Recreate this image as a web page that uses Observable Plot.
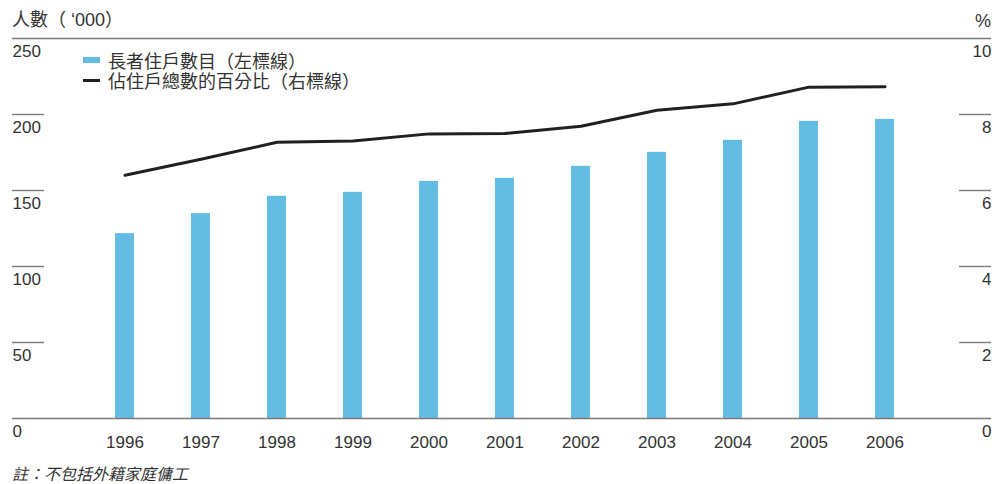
<!DOCTYPE html>
<html>
<head>
<meta charset="utf-8">
<script src="https://cdn.jsdelivr.net/npm/d3@7"></script>
<script src="https://cdn.jsdelivr.net/npm/@observablehq/plot@0.6"></script>
<style>
  html, body { margin: 0; padding: 0; background: #fff; }
  #wrap { position: relative; width: 995px; height: 484px; overflow: hidden;
          font-family: "Liberation Sans", "Noto Sans CJK TC", sans-serif; color: #333; }
  .abs { position: absolute; white-space: nowrap; }
  #title { left: 12px; top: 11px; font-size: 18px; line-height: 18px; height: 18px; }
  #pct { right: 4px; top: 12px; font-size: 18px; line-height: 18px; height: 18px; }
  .leg { left: 83px; font-size: 18px; line-height: 17px; height: 17px; font-family: "Noto Sans CJK TC", sans-serif;
         display: flex; align-items: center; }
  .sw { display: block; width: 17px; margin-right: 8px; flex: none; }
  #note { left: 12px; top: 465px; font-size: 16px; line-height: 16px; height: 16px; font-style: italic;
          font-family: "Noto Sans CJK TC", sans-serif; }
</style>
</head>
<body>
<div id="wrap">
  <div id="chart"></div>
  <div class="abs" id="title">人數（ ‘000）</div>
  <div class="abs" id="pct">%</div>
  <div class="abs leg" style="top:51.5px"><span class="sw" style="height:6px;background:#63bde2"></span><span>長者住戶數目（左標線）</span></div>
  <div class="abs leg" style="top:71.5px"><span class="sw" style="height:3px;background:#231f20"></span><span>佔住戶總數的百分比（右標線）</span></div>
  <div class="abs" id="note">註：不包括外籍家庭傭工</div>
</div>
<script>
const years = ["1996","1997","1998","1999","2000","2001","2002","2003","2004","2005","2006"];
const households = [121.6, 134.8, 146.2, 148.8, 156.0, 158.0, 165.9, 175.1, 183.0, 195.5, 196.8];
const share = [6.40, 6.82, 7.27, 7.30, 7.49, 7.50, 7.69, 8.11, 8.28, 8.72, 8.73];
const leftTicks = [0, 50, 100, 150, 200, 250];
const rightTicks = [0, 2, 4, 6, 8, 10];
const ratio = 25; // right axis 10% <-> left axis 250

const data = years.map((y, i) => ({year: y, households: households[i], share: share[i]}));
const rightData = rightTicks.map(v => ({v, y: v * ratio}));

const W = 995, H = 484, mL = 12, mR = 4;
const frameW = W - mL - mR;

const chart = Plot.plot({
  width: W,
  height: H,
  marginTop: 38,
  marginBottom: 66,
  marginLeft: mL,
  marginRight: mR,
  style: {fontFamily: "Liberation Sans, sans-serif", fontSize: "17px", color: "#333", background: "transparent"},
  x: {domain: years, axis: null, paddingInner: 0.755, paddingOuter: 1.301, align: 0.5126},
  y: {domain: [0, 250], axis: null},
  marks: [
    Plot.barY(data, {x: "year", y: "households", fill: "#63bde2"}),
    Plot.line(data, {x: "year", y: d => d.share * ratio, stroke: "#231f20", strokeWidth: 3}),
    Plot.ruleY([0, 250], {stroke: "#7a7a7a", strokeWidth: 1.4}),
    Plot.ruleY(leftTicks.filter(v => v > 0 && v < 250), {stroke: "#7a7a7a", strokeWidth: 1.4, insetRight: frameW - 32}),
    Plot.ruleY(rightData.filter(d => d.v > 0 && d.v < 10), {y: "y", stroke: "#7a7a7a", strokeWidth: 1.4, insetLeft: frameW - 32}),
    Plot.text(leftTicks, {y: d => d, text: d => String(d), frameAnchor: "left", textAnchor: "start", lineAnchor: "middle", dy: 13, fill: "#333", style: {letterSpacing: "0.8px"}}),
    Plot.text(rightData, {y: "y", text: d => String(d.v), frameAnchor: "right", textAnchor: "end", lineAnchor: "middle", dy: 13, fill: "#333"}),
    Plot.text(years, {x: d => d, text: d => d, frameAnchor: "bottom", lineAnchor: "middle", dy: 24, fill: "#333", style: {letterSpacing: "0.9px"}})
  ]
});
document.getElementById("chart").appendChild(chart);
</script>
</body>
</html>
